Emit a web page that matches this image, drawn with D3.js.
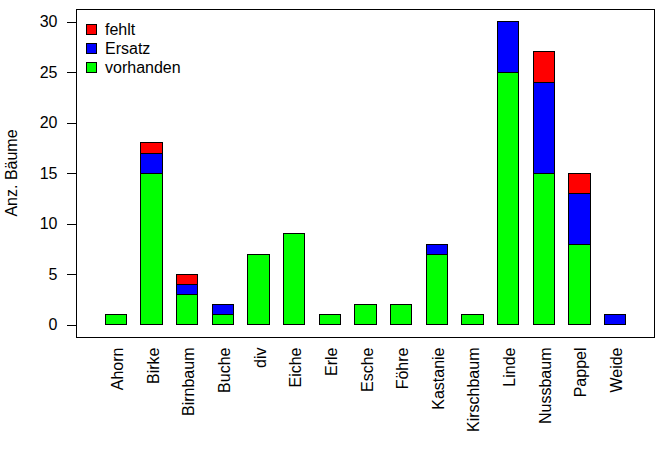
<!DOCTYPE html>
<html>
<head>
<meta charset="utf-8">
<script src="https://cdn.jsdelivr.net/npm/d3@7"></script>
<style>
  html, body { margin: 0; padding: 0; background: #fff; }
  svg text { font-family: "Liberation Sans", Arial, sans-serif; font-size: 16px; fill: #000; }
</style>
</head>
<body>
<svg id="chart" width="664" height="472"></svg>
<script>
const categories = ["Ahorn","Birke","Birnbaum","Buche","div","Eiche","Erle","Esche","Föhre","Kastanie","Kirschbaum","Linde","Nussbaum","Pappel","Weide"];
const vorhanden = [1,15,3,1,7,9,1,2,2,7,1,25,15,8,0];
const ersatz    = [0,2,1,1,0,0,0,0,0,1,0,5,9,5,1];
const fehlt     = [0,1,1,0,0,0,0,0,0,0,0,0,3,2,0];
const seriesNames = ["vorhanden","Ersatz","fehlt"];
const seriesColors = ["#00FF00","#0000FF","#FF0000"];
const yTicks = [0,5,10,15,20,25,30];
const yLabel = "Anz. Bäume";

const svg = d3.select("#chart");
const box = {left: 76.5, right: 654.5, top: 9.5, bottom: 337};

const x = d3.scaleBand()
  .domain(categories)
  .range([98.2, 632.8])
  .paddingInner(0.4)
  .paddingOuter(0.2);

const y = d3.scaleLinear().domain([-1.2, 31.2]).range([box.bottom, box.top]);

const rows = categories.map((c, i) => ({cat: c, vorhanden: vorhanden[i], Ersatz: ersatz[i], fehlt: fehlt[i]}));
const stack = d3.stack().keys(seriesNames)(rows);

stack.forEach((layer, li) => {
  svg.append("g").selectAll("rect")
    .data(layer)
    .join("rect")
    .attr("x", d => x(d.data.cat))
    .attr("width", x.bandwidth())
    .attr("y", d => y(d[1]))
    .attr("height", d => y(d[0]) - y(d[1]))
    .attr("fill", seriesColors[li])
    .attr("stroke", "#000")
    .attr("stroke-width", 1)
    .attr("shape-rendering", "crispEdges");
});

// plot box
svg.append("rect")
  .attr("x", box.left).attr("y", box.top)
  .attr("width", box.right - box.left).attr("height", box.bottom - box.top)
  .attr("fill", "none").attr("stroke", "#000").attr("stroke-width", 1)
  .attr("shape-rendering", "crispEdges");

// y axis
const yAxis = d3.axisLeft(y).tickValues(yTicks).tickSize(10).tickPadding(9);
const ga = svg.append("g").attr("transform", `translate(${box.left},0)`).call(yAxis);
ga.select(".domain").remove();
ga.selectAll(".tick line").attr("stroke", "#000").attr("shape-rendering", "crispEdges");
ga.selectAll(".tick text")
  .attr("fill", "#000")
  .style("font-family", '"Liberation Sans", Arial, sans-serif')
  .style("font-size", "16px");

// x category labels (rotated)
svg.append("g").selectAll("text")
  .data(categories)
  .join("text")
  .attr("transform", d => `translate(${x(d) + x.bandwidth()/2 + 7},347.5) rotate(-90)`)
  .attr("text-anchor", "end")
  .text(d => d);

// y label
svg.append("text")
  .attr("transform", "translate(16.5,173) rotate(-90)")
  .attr("text-anchor", "middle")
  .text(yLabel);

// legend (top item = fehlt)
const legendOrder = [2,1,0];
const lg = svg.append("g");
legendOrder.forEach((si, k) => {
  const cy = 29 + k * 19;
  lg.append("rect")
    .attr("x", 86.5).attr("y", cy - 5).attr("width", 10).attr("height", 10)
    .attr("fill", seriesColors[si]).attr("stroke", "#000").attr("stroke-width", 1)
    .attr("shape-rendering", "crispEdges");
  lg.append("text")
    .attr("x", 105).attr("y", cy).attr("dy", "0.35em")
    .text(seriesNames[si]);
});
</script>
</body>
</html>
